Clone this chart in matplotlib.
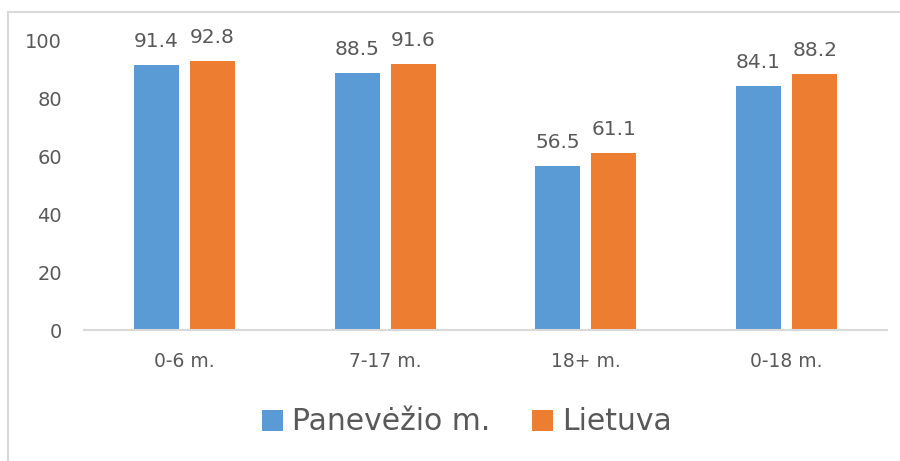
import numpy as np
import matplotlib.pyplot as plt
from matplotlib.patches import Rectangle

# --- Data ---
categories = ["0-6 m.", "7-17 m.", "18+ m.", "0-18 m."]
series_names = ["Panevėžio m.", "Lietuva"]
panevezys = [91.4, 88.5, 56.5, 84.1]
lietuva = [92.8, 91.6, 61.1, 88.2]
yticks = [0, 20, 40, 60, 80, 100]

BLUE = "#5b9bd5"
ORANGE = "#ed7d31"
TEXT = "#595959"

plt.rcParams['font.family'] = ['DejaVu Sans']

fig = plt.figure(figsize=(9, 4.61), dpi=100)
ax = fig.add_axes([84 / 900, 1 - 330 / 461, 803 / 900, 290 / 461])

x = np.arange(len(categories))
w = 0.224
off = 0.14
b1 = ax.bar(x - off, panevezys, w, color=BLUE, label=series_names[0])
b2 = ax.bar(x + off, lietuva, w, color=ORANGE, label=series_names[1])

for bars, vals in [(b1, panevezys), (b2, lietuva)]:
    for r, v in zip(bars, vals):
        ax.annotate(f"{v:.1f}", (r.get_x() + r.get_width() / 2, v),
                    xytext=(0, 10), textcoords="offset points",
                    ha="center", va="bottom", fontsize=14.5, color=TEXT)

ax.set_xlim(-0.5, len(categories) - 0.5)
ax.set_ylim(0, 100)
ax.set_yticks(yticks)
ax.set_xticks(x)
ax.set_xticklabels(categories)
ax.tick_params(axis="y", length=0, labelsize=14, colors=TEXT, pad=16)
ax.tick_params(axis="x", length=0, labelsize=13.5, colors=TEXT, pad=16)
for s in ["top", "right", "left"]:
    ax.spines[s].set_visible(False)
ax.spines["bottom"].set_color("#d9d9d9")
ax.spines["bottom"].set_linewidth(1.5)

fig.legend(handles=[b1, b2], labels=series_names, loc="center",
           bbox_to_anchor=(467 / 900, 1 - 422 / 461), ncol=2, frameon=False,
           fontsize=21.5, handlelength=0.7, handleheight=0.7,
           handletextpad=0.3, columnspacing=1.4, labelcolor=TEXT)

# outer chart border
fig.patches.append(Rectangle((8 / 900, -0.05), 1.0, 1 - 12 / 461 + 0.05,
                             transform=fig.transFigure, fill=False,
                             edgecolor="#d9d9d9", linewidth=1.5))

fig.savefig("out.png", dpi=100)
